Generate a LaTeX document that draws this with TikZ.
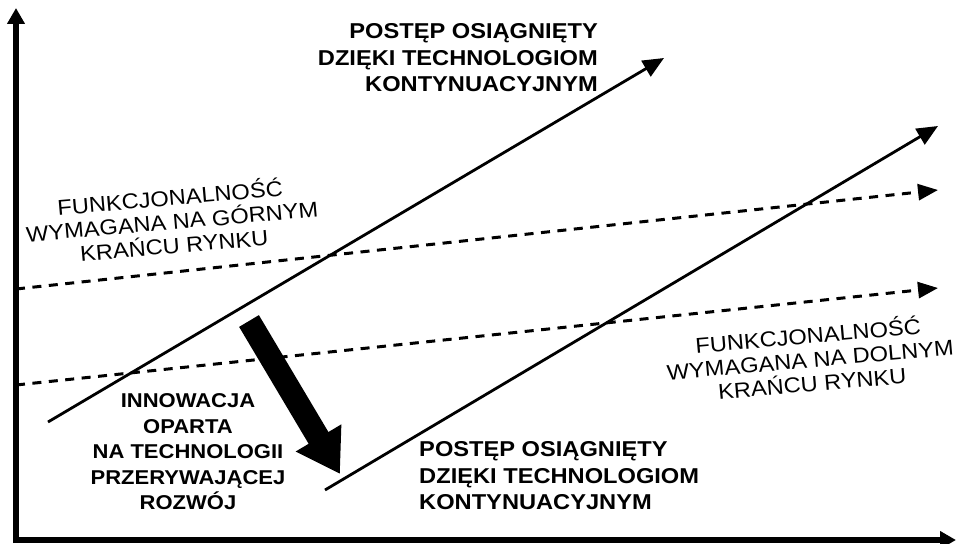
\documentclass[tikz,border=0pt]{standalone}
\usepackage{fontspec}
\setmainfont{Liberation Sans}
\usetikzlibrary{arrows.meta}
\begin{document}
\begin{tikzpicture}[x=1pt,y=-1pt,
  axis/.style={line width=5.5pt,-{Triangle[length=16pt,width=17pt]}},
  trend/.style={line width=2.8pt,-{Triangle[length=21pt,width=18pt]}},
  need/.style={line width=3pt,dash pattern=on 9pt off 7.5pt,-{Triangle[length=20pt,width=16pt]}},
  jump/.style={line width=23pt,-{Triangle[length=42pt,width=50pt]}},
  boldtxt/.style={font=\fontsize{21.5}{26.5}\selectfont\bfseries, xscale=1.1, transform shape, inner sep=0pt},
  innotxt/.style={font=\fontsize{20}{25.5}\selectfont\bfseries, xscale=1.1, transform shape, inner sep=0pt},
  regtxt/.style={font=\fontsize{21.5}{24}\selectfont, xscale=1.1, transform shape, inner sep=0pt},
]
\useasboundingbox (0,0) rectangle (957,543);
\fill[white] (0,0) rectangle (957,543);
% axes
\coordinate (ybot) at (16,543);
\coordinate (ytop) at (16,8);
\coordinate (xleft) at (13.25,540);
\coordinate (xend) at (956,540);
\draw[axis] (ybot) -- (ytop);
\draw[axis] (xleft) -- (xend);
% required functionality (dashed)
\coordinate (hiS) at (16,289);
\coordinate (hiE) at (938,190);
\coordinate (loS) at (16,385);
\coordinate (loE) at (938,288);
\draw[need] (hiS) -- (hiE);
\draw[need] (loS) -- (loE);
% sustaining trajectories
\coordinate (upS) at (48,422);
\coordinate (upE) at (664,58);
\coordinate (dnS) at (325,490);
\coordinate (dnE) at (938,126);
\draw[trend] (upS) -- (upE);
\draw[trend] (dnS) -- (dnE);
% disruptive jump
\coordinate (jS) at (249,321);
\coordinate (jE) at (340,474);
\draw[jump] (jS) -- (jE);
% labels
\node[boldtxt, align=right, anchor=east] (ltop) at (598,58)
  {POSTĘP OSIĄGNIĘTY\\DZIĘKI TECHNOLOGIOM\\KONTYNUACYJNYM};
\node[boldtxt, align=left, anchor=west] (lbot) at (419,476)
  {POSTĘP OSIĄGNIĘTY\\DZIĘKI TECHNOLOGIOM\\KONTYNUACYJNYM};
\node[innotxt, align=center] (linn) at (188,452)
  {INNOWACJA\\OPARTA\\NA TECHNOLOGII\\PRZERYWAJĄCEJ\\ROZWÓJ};
\node[rotate=5, regtxt, align=center] (lhi) at (172,220)
  {FUNKCJONALNOŚĆ\\WYMAGANA NA GÓRNYM\\KRAŃCU RYNKU};
\node[rotate=5, regtxt, align=center] (llo) at (810,358)
  {FUNKCJONALNOŚĆ\\WYMAGANA NA DOLNYM\\KRAŃCU RYNKU};
\end{tikzpicture}
\end{document}
